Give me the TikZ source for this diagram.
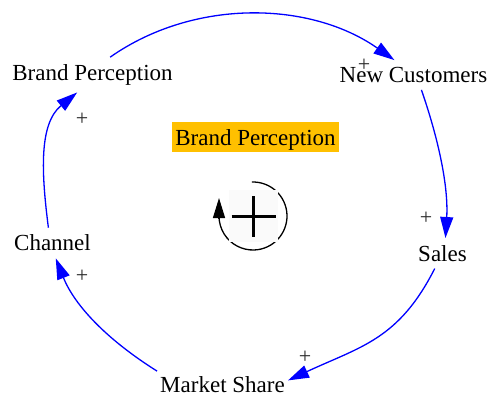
\documentclass[tikz,border=0pt]{standalone}
\usepackage{fontspec}
\setmainfont{Liberation Serif}
\usetikzlibrary{arrows.meta}
\definecolor{titleorange}{HTML}{FFC000}
\definecolor{linkblue}{HTML}{0000FF}
\definecolor{symfill}{HTML}{FAFAFA}
\definecolor{signgray}{HTML}{2A2A2A}
\begin{document}
\begin{tikzpicture}[x=1pt,y=-1pt,
  var/.style={inner xsep=3pt, inner ysep=7pt, font=\fontsize{23}{27}\selectfont},
  link/.style={color=linkblue, line width=1.3pt, -{Triangle[length=21pt,width=13pt]}},
  sign/.style={inner sep=0pt, text=signgray, font=\fontsize{22}{26}\selectfont},
  looparc/.style={draw=black, line width=1.3pt},
  looptip/.style={draw=black, line width=1.3pt, -{Triangle[length=20pt,width=12pt]}},
  plusbar/.style={draw=black, line width=3pt},
  titlebox/.style={fill=titleorange, minimum width=167pt, inner xsep=0pt, inner ysep=0pt,
    text height=23pt, text depth=7pt, font=\fontsize{23}{27}\selectfont}
]
\useasboundingbox (0,0) rectangle (492,396);

% variables
\node[var] (bp) at (92.5,74.8) {Brand Perception};
\node[var] (nc) at (413.5,75) {New Customers};
\node[var] (sales) at (442.5,253.3) {Sales};
\node[var] (ms) at (222.5,385) {Market Share};
\node[var] (ch) at (52.5,243) {Channel};

% title
\node[titlebox] (title) at (255.5,137) {Brand Perception};

% links
\draw[link] (bp.45) .. controls +(84,-59) and +(-84,-59) .. (nc.142);
\draw[link] (nc.-62) .. controls +(18,52) and +(3,-50) .. (sales.79);
\draw[link] (sales.243) .. controls +(-36,71) and +(73,-34) .. (ms.4);
\draw[link] (ms.168) .. controls +(-51,-32) and +(18.5,46.5) .. (ch.282);
\draw[link] (ch.105) .. controls +(-7,-54.5) and +(-38.5,31.5) .. (bp.229);

% polarity signs
\node[sign] (s1) at (364,65) {+};
\node[sign] (s2) at (426,218) {+};
\node[sign] (s3) at (305,357) {+};
\node[sign] (s4) at (82,276) {+};
\node[sign] (s5) at (82,119) {+};

% loop symbol
\coordinate (lc) at (253,216);
\draw[looparc] (lc) ++(-92:34) arc[start angle=-92, end angle=180, radius=34];
\coordinate (ltb) at (219,219);
\coordinate (ltt) at (219,198);
\draw[looptip] (ltb) -- (ltt);
\node[fill=symfill, minimum width=49pt, minimum height=52pt, inner sep=0pt] (sym) at (253.5,216) {};
\draw[plusbar] (sym.center) ++(-22,0) -- ++(44,0);
\draw[plusbar] (sym.center) ++(0,-20) -- ++(0,41);
\end{tikzpicture}
\end{document}
